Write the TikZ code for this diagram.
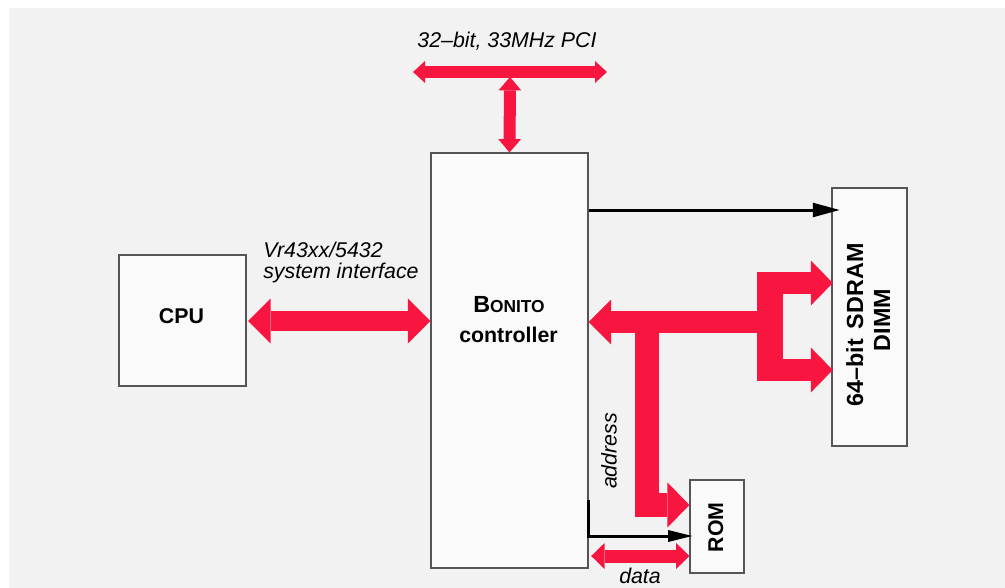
\documentclass[tikz,border=0pt]{standalone}
\usepackage{fontspec}
\setmainfont{Liberation Sans}
\usetikzlibrary{arrows.meta}
\definecolor{busred}{RGB}{248,22,64}
\definecolor{bggray}{RGB}{242,242,242}
\definecolor{boxfill}{RGB}{250,250,250}
\definecolor{boxline}{RGB}{85,85,85}
\begin{document}
\begin{tikzpicture}[x=0.75pt,y=-0.75pt,
  box/.style={draw=boxline, line width=0.8pt, fill=boxfill, inner sep=0pt},
  itlbl/.style={inner sep=0pt, font=\fontsize{16}{16}\selectfont\itshape},
  bflbl/.style={inner sep=0pt, font=\fontsize{16}{16}\selectfont\bfseries},
  bus/.style n args={3}{draw=busred, line width=#1, line join=miter,
    arrows={{Triangle[width=#2,length=#3,line width=0pt]}-{Triangle[width=#2,length=#3,line width=0pt]}}},
  onebus/.style n args={3}{draw=busred, line width=#1, line join=miter,
    arrows={-{Triangle[width=#2,length=#3,line width=0pt]}}},
  sig/.style n args={2}{draw=black, line width=2.25pt, line join=miter,
    arrows={-{Triangle[width=#1,length=#2,line width=0pt]}}}
]
\useasboundingbox (0,0) rectangle (1005,588);
\fill[white] (0,0) rectangle (1005,588);
\fill[bggray] (9,8) rectangle (1005,588);

% boxes
\node[box, minimum width=95.25pt, minimum height=98.25pt] (cpu) at (182.5,320.5) {};
\node[box, minimum width=117.75pt, minimum height=311.25pt] (bonito) at (509.5,360.5) {};
\node[box, minimum width=56.25pt, minimum height=193.5pt] (sdram) at (869.5,317) {};
\node[box, minimum width=40.5pt, minimum height=69.75pt] (rom) at (717,526.5) {};

% texts
\node[itlbl, anchor=base] (pcitxt) at (507,48) {32–bit, 33MHz PCI};
\node[itlbl, anchor=base west] (sitxt1) at (263,257) {Vr43xx/5432};
\node[itlbl, anchor=base west] (sitxt2) at (263,278) {system interface};
\node[bflbl, anchor=base] (cputxt) at (181.5,323) {CPU};
\node[bflbl, anchor=base] (bontxt1) at (509,312) {{\fontsize{17.5}{18}\selectfont B}{\fontsize{13}{14}\selectfont ONITO}};
\node[bflbl, anchor=base] (bontxt2) at (508.5,342) {controller};
\node[bflbl, anchor=base, rotate=90, font=\fontsize{17.5}{18}\selectfont\bfseries] (sdtxt1) at (863,325) {64–bit\hspace{0.15em} SDRAM};
\node[bflbl, anchor=base, rotate=90, font=\fontsize{17.5}{18}\selectfont\bfseries] (sdtxt2) at (890,320) {DIMM};
\node[bflbl, anchor=base, rotate=90] (romtxt) at (723,527.5) {ROM};
\node[itlbl, anchor=base, rotate=90] (addrtxt) at (616.5,451) {address};
\node[itlbl, anchor=base] (datatxt) at (640,583) {data};

% coordinates
\coordinate (pcil) at (413,72);
\coordinate (pcir) at (607,72);
\coordinate (pcij) at (510,77);
\coordinate (cpuend) at (248,321);
\coordinate (brtrunk) at (770,322);
\coordinate (brtop) at (770,283);
\coordinate (brbot) at (770,370);
\coordinate (romtrunk) at (647,322);
\coordinate (romcorner) at (647,505);
\coordinate (romsig) at (588,500);
\coordinate (romsigc) at (588,536);

% PCI bus
\draw[bus={9pt}{16.5pt}{9pt}] (pcil) -- (pcir);
\draw[bus={9pt}{17pt}{10pt}] (pcij) -- (bonito.north);

% CPU bus
\draw[bus={15pt}{33.75pt}{17pt}] (cpuend) -- (bonito.west |- cpuend);

% memory bus
\draw[onebus={16.5pt}{33.75pt}{17pt}] (brtrunk) -- (bonito.east |- brtrunk);
\fill[busred] ([shift={(-13,-11)}]brtop) rectangle ([shift={(13,11)}]brbot);
\draw[bus={17pt}{33.75pt}{16.5pt}] ([xshift=1pt]sdram.west |- brtop) -- (brtop) -- (brbot) -- ([xshift=1pt]sdram.west |- brbot);
\draw[onebus={18pt}{33.75pt}{16.5pt}] (romtrunk) -- (romcorner) -- (rom.west |- romcorner);

% control signals
\draw[sig={11pt}{20pt}] (bonito.east |- 0,210) -- ([xshift=6pt]sdram.west |- 0,210);
\draw[sig={9pt}{18pt}] (romsig) -- (romsigc) -- ([xshift=2pt]rom.west |- romsigc);

% data bus
\draw[bus={9.75pt}{19.5pt}{10pt}] ([xshift=2pt]bonito.east |- 0,556) -- (rom.west |- 0,556);
\end{tikzpicture}
\end{document}
